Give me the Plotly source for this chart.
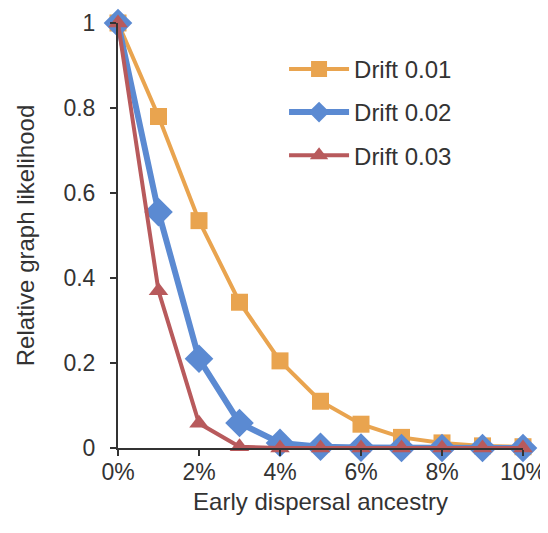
import plotly.graph_objects as go

ancestry_pct = [0, 1, 2, 3, 4, 5, 6, 7, 8, 9, 10]
drift_001 = [1.0, 0.78, 0.535, 0.343, 0.205, 0.11, 0.056, 0.025, 0.012, 0.005, 0.003]
drift_002 = [1.0, 0.555, 0.21, 0.059, 0.012, 0.003, 0.001, 0.0, 0.0, 0.0, 0.0]
drift_003 = [1.0, 0.37, 0.058, 0.003, 0.0, 0.0, 0.0, 0.0, 0.0, 0.0, 0.0]
series_names = ["Drift 0.01", "Drift 0.02", "Drift 0.03"]
x_ticks = [0, 2, 4, 6, 8, 10]
x_tick_labels = ["0%", "2%", "4%", "6%", "8%", "10%"]
y_ticks = [0, 0.2, 0.4, 0.6, 0.8, 1]
y_tick_labels = ["0", "0.2", "0.4", "0.6", "0.8", "1"]

FONT = "Liberation Sans, Arial, Helvetica, sans-serif"
styles = [
    dict(color="#E9A44F", width=4, symbol="square", size=17),
    dict(color="#5B8AD2", width=6, symbol="diamond", size=22),
    dict(color="#B85A5C", width=4, symbol="triangle-up", size=17),
]

fig = go.Figure()
for i, (name, ys, st) in enumerate(zip(series_names, [drift_001, drift_002, drift_003], styles)):
    fig.add_trace(go.Scatter(
        x=ancestry_pct, y=ys, name=name, mode="lines+markers",
        line=dict(color=st["color"], width=st["width"]),
        marker=dict(color=st["color"], symbol=st["symbol"], size=st["size"], line=dict(width=0)),
        cliponaxis=False, legendgroup=f"g{i}",
    ))

# page body has an 8px default margin, so the figure is a bit smaller than the window
fig.update_layout(
    width=540, height=525,
    margin=dict(l=110, r=25, t=15, b=85),
    paper_bgcolor="white", plot_bgcolor="white",
    font=dict(family=FONT, color="#333333", size=23),
    showlegend=True,
    legend=dict(x=0.41, y=0.944, xanchor="left", yanchor="top",
                font=dict(size=24, color="#333333"), itemwidth=60,
                tracegroupgap=9, bgcolor="rgba(0,0,0,0)"),
    xaxis=dict(range=[0, 10], tickvals=x_ticks, ticktext=x_tick_labels, showgrid=False, zeroline=False,
               showline=True, linecolor="#333333", linewidth=2, ticks="outside", ticklen=6,
               tickwidth=2, tickcolor="#333333", tickfont=dict(size=23), automargin=False,
               ticklabelstandoff=-4,
               title=dict(text="Early dispersal ancestry", font=dict(size=24), standoff=10)),
    yaxis=dict(range=[0, 1], tickvals=y_ticks, ticktext=y_tick_labels, showgrid=False, zeroline=False,
               showline=True, linecolor="#333333", linewidth=2, ticks="outside", ticklen=6,
               tickwidth=2, tickcolor="#333333", tickfont=dict(size=23), automargin=False,
               ticklabelstandoff=10,
               title=dict(text="Relative graph likelihood", font=dict(size=24), standoff=22)),
)

fig.write_html("out.html")
